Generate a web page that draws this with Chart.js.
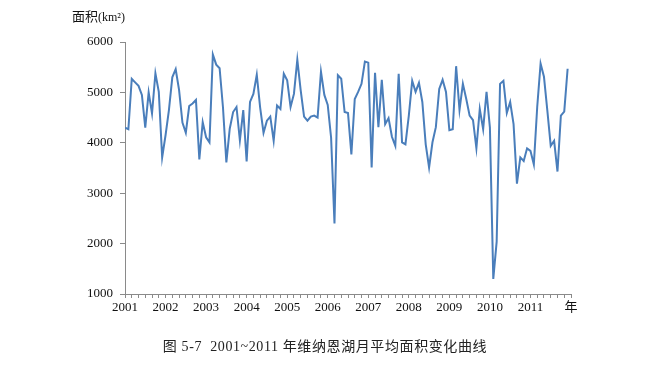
<!DOCTYPE html>
<html>
<head>
<meta charset="utf-8">
<script src="https://cdn.jsdelivr.net/npm/chart.js@4"></script>
<style>
  html, body { margin: 0; padding: 0; background: #fff; }
  #wrap { position: relative; width: 668px; height: 370px; }
  #unit { position: absolute; left: 72px; top: 6px; font: 13px "Noto Sans CJK SC", serif; color: #111; }
  #unit small { font: 12px "Liberation Serif", serif; }
  #caption { position: absolute; left: 0; width: 650px; top: 335px; text-align: center;
             font: 14px "Liberation Serif", "Noto Sans CJK SC", serif; color: #222; letter-spacing: 0.6px; }
</style>
</head>
<body>
<div id="wrap">
  <canvas id="c" width="668" height="370"></canvas>
  <div id="unit">面积<small>(km²)</small></div>
  <div id="caption">图 5-7&nbsp; 2001~2011 年维纳恩湖月平均面积变化曲线</div>
</div>
<script>
"use strict";

// 월별 면적 (km²), 2001-01 ~ 2011-12
const YEARS = [2001, 2002, 2003, 2004, 2005, 2006, 2007, 2008, 2009, 2010, 2011];
const AREA = [
  4300, 4270, 5270, 5200, 5130, 4950, 4300, 5000, 4580, 5380, 5010, 3710, // 2001
  4150, 4650, 5300, 5460, 5050, 4400, 4200, 4730, 4780, 4850, 3670, 4410, // 2002
  4110, 4010, 5750, 5550, 5480, 4700, 3610, 4280, 4610, 4710, 4050, 4650, // 2003
  3630, 4810, 4970, 5350, 4700, 4200, 4440, 4520, 4040, 4740, 4670, 5370, // 2004
  5240, 4710, 4970, 5650, 5040, 4520, 4440, 4520, 4540, 4500, 5410, 4950, // 2005
  4750, 4100, 2400, 5340, 5270, 4610, 4590, 3770, 4870, 5010, 5170, 5610, // 2006
  5590, 3510, 5390, 4310, 5250, 4370, 4490, 4120, 3940, 5370, 4010, 3970, // 2007
  4540, 5230, 5010, 5190, 4810, 3970, 3510, 4010, 4310, 5070, 5250, 5010, // 2008
  4250, 4270, 5520, 4650, 5170, 4870, 4540, 4450, 3890, 4670, 4270, 5010, // 2009
  4300, 1300, 2040, 5170, 5230, 4590, 4810, 4370, 3190, 3710, 3640, 3890, // 2010
  3840, 3570, 4710, 5570, 5310, 4640, 3940, 4040, 3430, 4540, 4620, 5470, // 2011
];
const Y_MIN = 1000, Y_MAX = 6000, Y_STEP = 1000;
const END_LABEL = "年";

const FONT = "'Liberation Serif', 'Noto Sans CJK SC', serif";
const AXIS_COLOR = "#8a8a8a";

const points = AREA.map((v, i) => ({ x: i, y: v }));
const lastTick = YEARS.length * 12;

new Chart(document.getElementById("c"), {
  type: "line",
  data: {
    datasets: [{
      data: points,
      borderColor: "#4a7ebb",
      borderWidth: 2,
      pointRadius: 0,
      tension: 0,
      fill: false,
    }],
  },
  options: {
    responsive: false,
    animation: false,
    layout: { padding: { left: 0, right: 97, top: 42, bottom: 46 } },
    plugins: { legend: { display: false }, tooltip: { enabled: false } },
    scales: {
      x: {
        type: "linear",
        min: 0,
        max: lastTick,
        afterFit: (s) => { s.height = 30; },
        afterBuildTicks: (s) => {
          // 2개월 간격 눈금
          const t = [];
          for (let v = 0; v <= lastTick; v += 2) t.push({ value: v });
          s.ticks = t;
        },
        ticks: {
          autoSkip: false,
          maxRotation: 0,
          padding: 2,
          color: "#111",
          font: { family: FONT, size: 13 },
          callback: (v) => {
            if (v % 12 !== 0) return "";
            return v === lastTick ? END_LABEL : String(YEARS[v / 12]);
          },
        },
        grid: { drawOnChartArea: false, drawTicks: true, tickLength: 4, color: AXIS_COLOR },
        border: { color: AXIS_COLOR, width: 1 },
      },
      y: {
        min: Y_MIN,
        max: Y_MAX,
        afterFit: (s) => { s.width = 125; },
        ticks: {
          stepSize: Y_STEP,
          padding: 7,
          color: "#111",
          font: { family: FONT, size: 13 },
          callback: (v) => String(v),
        },
        grid: { drawOnChartArea: false, drawTicks: true, tickLength: 5, color: AXIS_COLOR },
        border: { color: AXIS_COLOR, width: 1 },
      },
    },
  },
});
</script>
</body>
</html>
